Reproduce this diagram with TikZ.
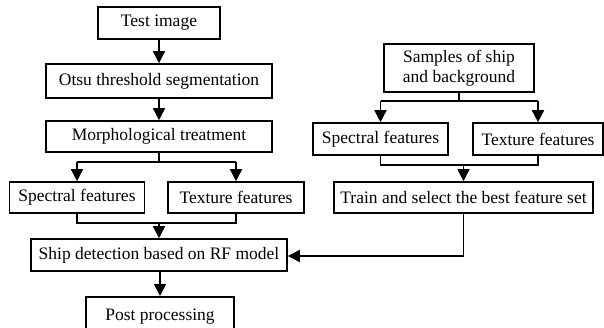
\documentclass[tikz,border=0pt]{standalone}
\usepackage{fontspec}
\setmainfont{Liberation Serif}
\usetikzlibrary{arrows.meta}
\begin{document}
\begin{tikzpicture}[x=1pt,y=-1pt,
  box/.style={draw, line width=1.6pt, inner sep=0pt, align=center, font=\fontsize{17.5}{20}\selectfont},
  line/.style={line width=1.6pt},
  arr/.style={line width=1.6pt, -{Triangle[length=12pt,width=12pt]}}]
\useasboundingbox (0,0) rectangle (604,328);
\clip (0,0) rectangle (604,328);
% left column
\node[box, minimum width=122, minimum height=32] (test) at (159,23) {Test image};
\node[box, minimum width=226, minimum height=34] (otsu) at (159,81) {Otsu threshold segmentation};
\node[box, minimum width=226, minimum height=31] (morph) at (159,136.5) {Morphological treatment};
\node[box, minimum width=135, minimum height=31] (spec1) at (77,197.5) {Spectral features};
\node[box, minimum width=136, minimum height=31] (tex1) at (236,197.5) {Texture features};
\node[box, minimum width=256, minimum height=32] (ship) at (159,255) {Ship detection based on RF model};
\node[box, minimum width=148, minimum height=40, anchor=north] (post) at (160,296) {\raisebox{-2pt}{Post processing}};
% right column
\node[box, minimum width=150, minimum height=48] (samp) at (459,68) {Samples of ship\\and background};
\node[box, minimum width=135, minimum height=32] (spec2) at (380.5,139) {Spectral features};
\node[box, minimum width=130, minimum height=32] (tex2) at (538,139) {Texture features};
\node[box, minimum width=259, minimum height=31] (train) at (463.5,197.5) {Train and select the best feature set};
% coordinates
\coordinate (b1) at (159,162);
\coordinate (b1l) at (77,162);
\coordinate (b1r) at (236,162);
\coordinate (m1l) at (77,223);
\coordinate (m1r) at (236,223);
\coordinate (m1) at (159,223);
\coordinate (b2) at (459,101);
\coordinate (b2l) at (380.5,101);
\coordinate (b2r) at (538,101);
\coordinate (m2l) at (380.5,165);
\coordinate (m2r) at (538,165);
\coordinate (m2) at (463.5,165);
\coordinate (c1) at (463.5,256);
% connectors
\draw[arr] (test) -- (otsu);
\draw[arr] (otsu) -- (morph);
\draw[line] (morph.south) -- (b1);
\draw[line] (b1l) -- (b1r);
\draw[arr] (b1l) -- (spec1.north);
\draw[arr] (b1r) -- (tex1.north);
\draw[line] (spec1.south) -- (m1l) -- (m1r) -- (tex1.south);
\draw[arr] (m1) -- (ship.north);
\draw[arr] (ship.south -| post.north) -- (post.north);
\draw[line] (samp.south) -- (b2);
\draw[line] (b2l) -- (b2r);
\draw[arr] (b2l) -- (spec2.north);
\draw[arr] (b2r) -- (tex2.north);
\draw[line] (spec2.south) -- (m2l) -- (m2r) -- (tex2.south);
\draw[arr] (m2) -- (train.north);
\draw[arr] (train.south) -- (c1) -- (ship.east |- c1);
\end{tikzpicture}
\end{document}
